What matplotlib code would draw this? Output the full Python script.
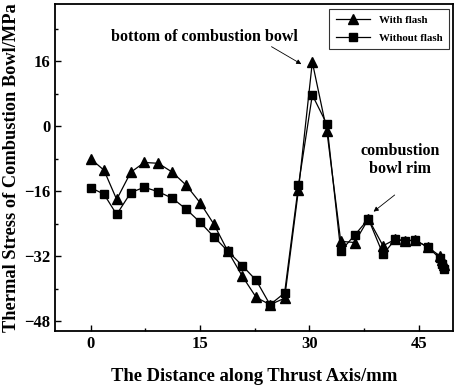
import matplotlib
matplotlib.use("Agg")
import matplotlib.pyplot as plt
from matplotlib.ticker import MultipleLocator

x = [0, 1.82, 3.56, 5.5, 7.35, 9.27, 11.2, 13.1, 15.0, 16.9, 18.8, 20.8, 22.7, 24.6,
     26.6, 28.5, 30.4, 32.4, 34.3, 36.2, 38.1, 40.1, 41.8, 43.1, 44.5, 46.3, 47.9, 48.2, 48.5]
with_flash = [-8.0, -10.8, -18.0, -11.3, -8.9, -9.1, -11.3, -14.5, -18.8, -24.1, -30.7, -36.9,
              -42.1, -43.9, -42.3, -15.6, 15.8, -1.2, -28.3, -28.6, -22.8, -29.4, -27.8, -28.2,
              -28.0, -29.8, -31.9, -32.9, -34.2]
without_flash = [-15.1, -16.7, -21.7, -16.3, -15.0, -16.1, -17.7, -20.4, -23.6, -27.2, -30.7,
                 -34.3, -37.9, -43.9, -41.0, -14.5, 7.7, 0.5, -30.7, -26.8, -22.8, -31.5, -27.8,
                 -28.2, -28.0, -29.8, -32.5, -33.8, -35.0]
series_labels = ["With flash", "Without flash"]

plt.rcParams['font.family'] = ['Liberation Serif', 'DejaVu Serif']
plt.rcParams['font.weight'] = 'bold'

fig = plt.figure(figsize=(4.54, 3.87), dpi=100)
ax = fig.add_axes([55/454, 1 - 330.7/387, (453 - 55)/454, (330.7 - 4)/387])

ax.plot(x, with_flash, '-', color='black', lw=0.9, marker='^', ms=7, label=series_labels[0])
ax.plot(x, without_flash, '-', color='black', lw=0.9, marker='s', ms=5.5, label=series_labels[1])

ax.set_xlim(-4.9, 49.7)
ax.set_ylim(-50.3, 30.1)
ax.xaxis.set_major_locator(MultipleLocator(15))
ax.xaxis.set_minor_locator(MultipleLocator(7.5))
ax.yaxis.set_minor_locator(MultipleLocator(8))
ax.set_yticks([-48, -32, -16, 0, 16])
ax.tick_params(which='both', direction='in', labelsize=12, width=1)
ax.tick_params(which='major', length=4)
ax.tick_params(which='minor', length=2.5)
for lab in ax.get_xticklabels() + ax.get_yticklabels():
    lab.set_fontweight('bold')
for s in ax.spines.values():
    s.set_linewidth(1.3)

ax.set_xlabel("The Distance along Thrust Axis/mm", fontsize=13.4, fontweight='bold', labelpad=12)
ax.set_ylabel("Thermal Stress of Combustion Bowl/MPa", fontsize=13.2, fontweight='bold', labelpad=3)

ax.text(15.6, 22.0, "bottom of combustion bowl", ha='center', va='center',
        fontsize=11.5, fontweight='bold')
ax.annotate("", xy=(28.9, 15.3), xytext=(24.8, 19.6),
            arrowprops=dict(arrowstyle='-|>', color='black', lw=0.6, mutation_scale=7,
                            shrinkA=0, shrinkB=0))
ax.text(42.4, -8.3, "combustion\nbowl rim", ha='center', va='center',
        fontsize=11.5, fontweight='bold', linespacing=1.15)
ax.annotate("", xy=(38.8, -21.0), xytext=(41.7, -16.9),
            arrowprops=dict(arrowstyle='-|>', color='black', lw=0.6, mutation_scale=7,
                            shrinkA=0, shrinkB=0))

leg = ax.legend(loc='upper right', bbox_to_anchor=(0.99, 0.985), borderaxespad=0,
                fontsize=7.8, frameon=True,
                fancybox=False, edgecolor='black', handlelength=3.2, borderpad=0.6,
                labelspacing=0.75, handletextpad=0.8)
leg.get_frame().set_linewidth(0.8)
for t in leg.get_texts():
    t.set_fontweight('bold')

fig.savefig("out.png", dpi=100)
